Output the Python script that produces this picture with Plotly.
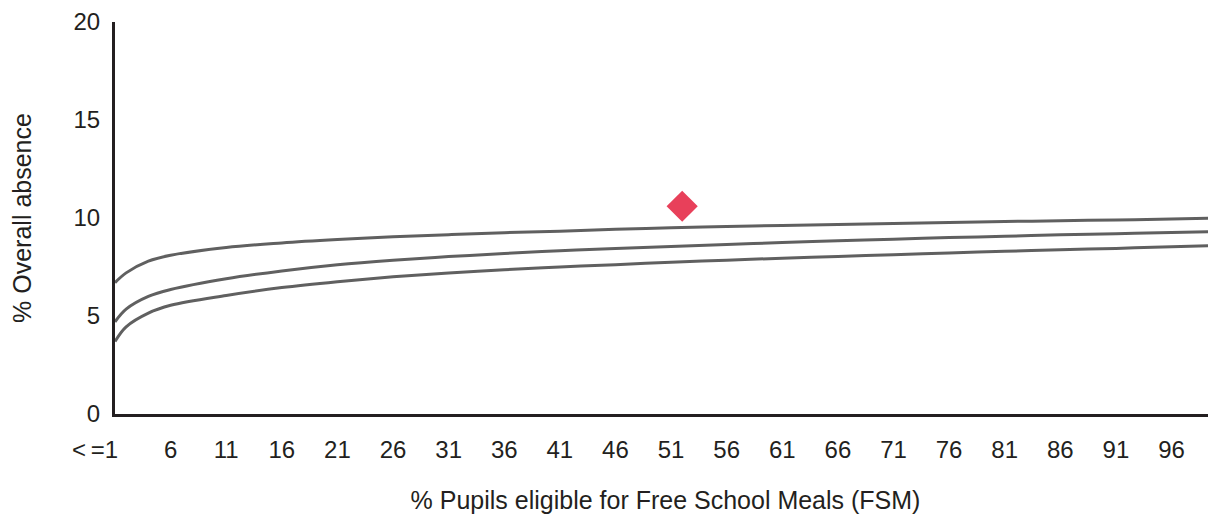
import plotly.graph_objects as go

# FSM % positions sampled along the curves
fsm = [1, 2, 4, 6, 11, 16, 21, 26, 31, 36, 41, 46, 51, 56, 61, 66, 71, 76, 81, 86, 91, 96, 100]

upper = [6.7, 7.2, 7.8, 8.1, 8.5, 8.73, 8.9, 9.04, 9.15, 9.25, 9.33, 9.42, 9.5,
         9.57, 9.62, 9.67, 9.72, 9.77, 9.82, 9.86, 9.9, 9.95, 10.0]
middle = [4.7, 5.35, 6.0, 6.35, 6.9, 7.3, 7.62, 7.85, 8.03, 8.19, 8.33, 8.45, 8.55,
          8.65, 8.75, 8.84, 8.92, 9.0, 9.07, 9.14, 9.2, 9.26, 9.3]
lower = [3.7, 4.45, 5.15, 5.55, 6.05, 6.45, 6.75, 7.0, 7.2, 7.36, 7.5, 7.62, 7.74,
         7.85, 7.95, 8.04, 8.13, 8.22, 8.3, 8.38, 8.45, 8.53, 8.6]

school_x = [52]
school_y = [10.6]

x_tickvals = [1, 6, 11, 16, 21, 26, 31, 36, 41, 46, 51, 56, 61, 66, 71, 76, 81, 86, 91, 96]
x_ticktext = ["<\u2009=1" + "\u00a0" * 6] + [str(v) for v in x_tickvals[1:]]
y_tickvals = [0, 5, 10, 15, 20]

FONT = "Liberation Sans, Arial, sans-serif"
TXT = "#231f20"
LINE = "#606060"

fig = go.Figure()
for ys in (upper, middle, lower):
    fig.add_trace(go.Scatter(x=fsm, y=ys, mode="lines", line=dict(color=LINE, width=3, shape="spline"),
                             hoverinfo="skip", showlegend=False))
fig.add_trace(go.Scatter(x=school_x, y=school_y, mode="markers",
                         marker=dict(symbol="diamond", size=24, color="#e8405a"),
                         showlegend=False))

# page body adds an 8px margin, so the figure is sized to fit the window
fig.update_layout(
    width=1208, height=509,
    margin=dict(l=107, r=0, t=11, b=103),
    paper_bgcolor="white", plot_bgcolor="white",
    font=dict(family=FONT, size=24, color=TXT),
    xaxis=dict(range=[1, 100], tickvals=x_tickvals, ticktext=x_ticktext,
               showgrid=False, zeroline=False, showline=True, linecolor=TXT, linewidth=3,
               ticks="", ticklabelstandoff=12, ticklabeloverflow="allow",
               tickfont=dict(size=24, color=TXT),
               title=dict(text="% Pupils eligible for Free School Meals (FSM)",
                          font=dict(size=25, color=TXT), standoff=30)),
    yaxis=dict(range=[0, 20], tickvals=y_tickvals,
               showgrid=False, zeroline=False, showline=True, linecolor=TXT, linewidth=3,
               ticks="", ticklabelstandoff=7, ticklabeloverflow="allow",
               tickfont=dict(size=24, color=TXT),
               title=dict(text="% Overall absence", font=dict(size=25, color=TXT), standoff=36)),
)

fig.write_html("out.html")
